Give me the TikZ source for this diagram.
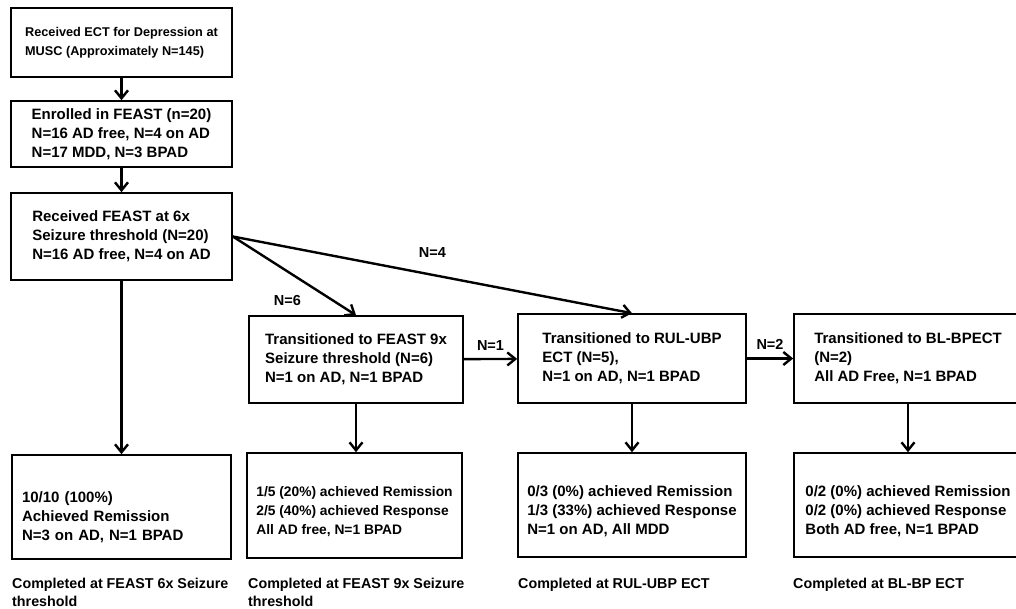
\documentclass[tikz,border=0pt]{standalone}
\usepackage{fontspec}
\setmainfont{Liberation Sans}
\usetikzlibrary{arrows.meta}
\begin{document}
\begin{tikzpicture}[x=1pt,y=-1pt,
box/.style={draw, line width=1.6pt, align=left, inner sep=0pt,
  font=\fontsize{15}{19}\selectfont\bfseries},
flow/.style={line width=2.4pt, -{Straight Barb[length=8pt,width=13pt]}},
nlab/.style={font=\fontsize{14.5}{17}\selectfont\bfseries},
done/.style={anchor=north west, inner sep=0pt, align=left,
  font=\fontsize{14.3}{18}\selectfont\bfseries}
]
\useasboundingbox (0,0) rectangle (1016,609);

% left column
\node[box, minimum width=221pt, minimum height=69pt,
  font=\fontsize{12.7}{19}\selectfont\bfseries] (ect) at (121.5,42.5)
  {Received ECT for Depression at\\MUSC (Approximately N=145)};
\node[box, minimum width=221pt, minimum height=66pt] (enrol) at (121.5,134)
  {Enrolled in FEAST (n=20)\\N=16 AD free, N=4 on AD\\N=17 MDD, N=3 BPAD};
\node[box, minimum width=221pt, minimum height=87pt] (six) at (121.5,236.5)
  {Received FEAST at 6x\\Seizure threshold (N=20)\\N=16 AD free, N=4 on AD};

% transitions
\node[box, minimum width=214pt, minimum height=87pt] (nine) at (356,359.5)
  {Transitioned to FEAST 9x\\Seizure threshold (N=6)\\N=1 on AD, N=1 BPAD};
\node[box, minimum width=228pt, minimum height=89pt] (rul) at (632,358.5)
  {Transitioned to RUL-UBP\\ECT (N=5),\\N=1 on AD, N=1 BPAD};
\node[box, minimum width=228pt, minimum height=89pt] (bl) at (908,358.5)
  {Transitioned to BL-BPECT\\(N=2)\\All AD Free, N=1 BPAD};

% results
\node[box, minimum width=219pt, minimum height=104pt, text width=199pt,
  inner xsep=10pt] (r6) at (121.5,507)
  {\rule{0pt}{31pt}10/10 (100\%)\\Achieved Remission\\N=3 on AD, N=1 BPAD};
\node[box, minimum width=215pt, minimum height=105pt,
  font=\fontsize{13.8}{19}\selectfont\bfseries] (r9) at (354.5,505.5)
  {\rule{0pt}{22pt}1/5 (20\%) achieved Remission\\2/5 (40\%) achieved Response\\All AD free, N=1 BPAD};
\node[box, minimum width=228pt, minimum height=104pt] (rrul) at (632,505)
  {\rule{0pt}{23pt}0/3 (0\%) achieved Remission\\1/3 (33\%) achieved Response\\N=1 on AD, All MDD};
\node[box, minimum width=228pt, minimum height=104pt] (rbl) at (908,505)
  {\rule{0pt}{23pt}0/2 (0\%) achieved Remission\\0/2 (0\%) achieved Response\\Both AD free, N=1 BPAD};

\node[done] (c6) at (12,578) {Completed at FEAST 6x Seizure\\threshold};
\node[done] (c9) at (248,578) {Completed at FEAST 9x Seizure\\threshold};
\node[done] (crul) at (518,578) {Completed at RUL-UBP ECT};
\node[done] (cbl) at (793,578) {Completed at BL-BP ECT};

\draw[flow] (ect) -- (enrol);
\draw[flow] (enrol) -- (six);
\draw[flow] (six) -- (r6);
\draw[flow] (six.east) -- (nine.north) node[nlab, pos=0.63, below left=5pt] (n6) {N=6};
\draw[flow] (six.east) -- (rul.north) node[nlab, midway, above=13pt] (n4) {N=4};
\draw[flow] (nine) -- (rul) node[nlab, midway, above=4pt] (n1) {N=1};
\draw[flow] (rul) -- (bl) node[nlab, midway, above=4pt] (n2) {N=2};
\draw[flow] (nine.south) -- (nine.south |- r9.north);
\draw[flow] (rul) -- (rrul);
\draw[flow] (bl) -- (rbl);

\end{tikzpicture}
\end{document}
